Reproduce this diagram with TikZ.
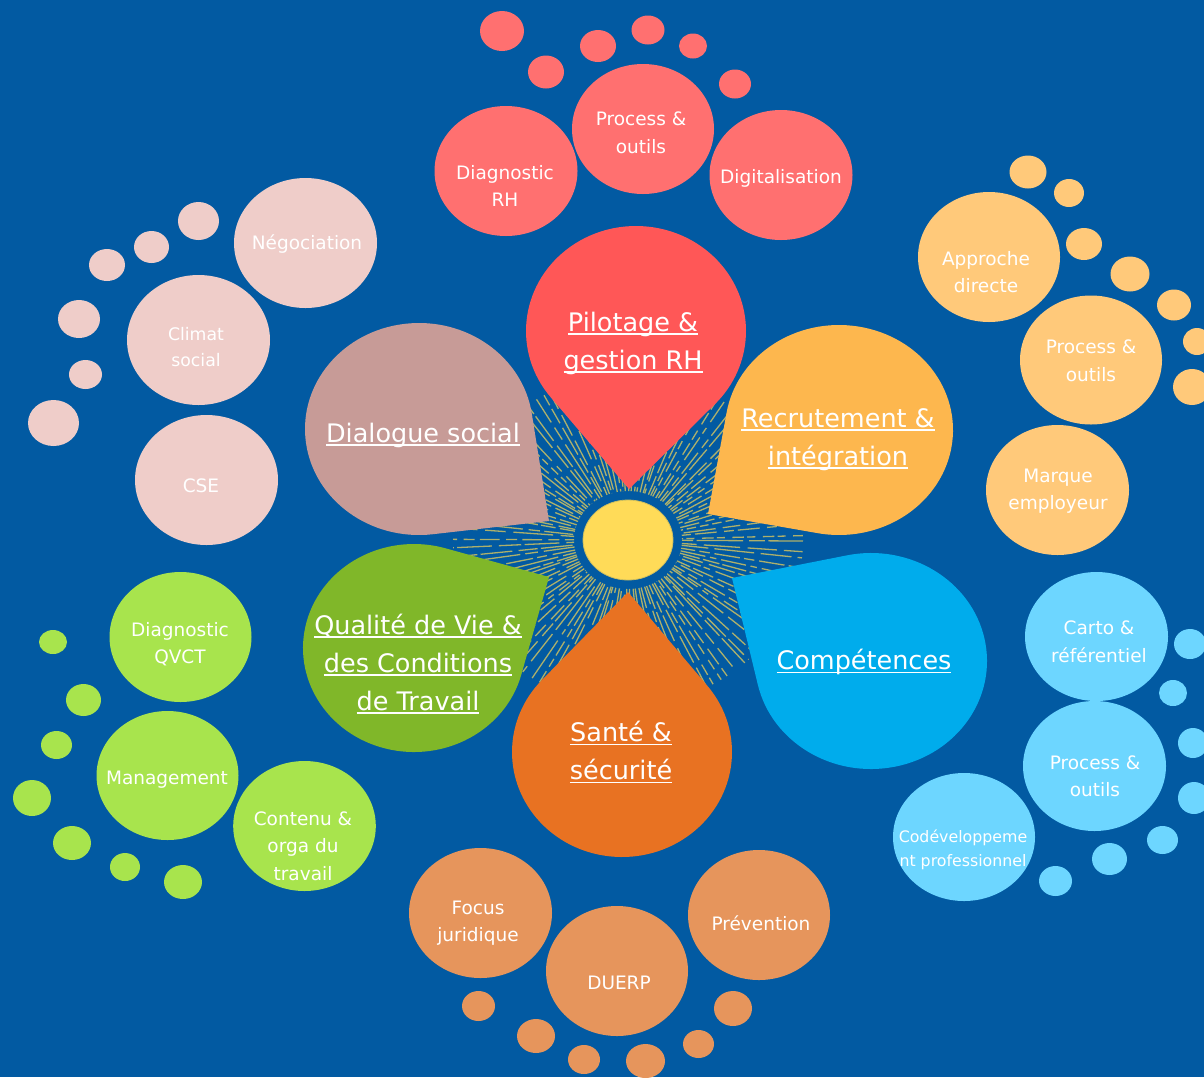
\documentclass[tikz,border=0pt]{standalone}
\usepackage{fontspec}
\setmainfont{DejaVu Sans}
\usetikzlibrary{calc}

% underline with a fixed offset below the baseline
\newsavebox\ulbox
\newcommand\ulined[1]{\sbox\ulbox{#1}\rlap{\rule[-3.5pt]{\wd\ulbox}{1.5pt}}\usebox\ulbox}

% palette
\definecolor{bgblue}{RGB}{2,90,162}
\definecolor{rayc}{RGB}{172,176,108}
\definecolor{sunc}{RGB}{255,219,88}
\definecolor{sunedge}{RGB}{205,190,95}
\definecolor{pilot}{RGB}{255,87,87}
\definecolor{dial}{RGB}{199,155,151}
\definecolor{recru}{RGB}{253,183,78}
\definecolor{compe}{RGB}{0,172,236}
\definecolor{sante}{RGB}{232,114,34}
\definecolor{qvct}{RGB}{128,183,41}
\definecolor{pilotL}{RGB}{255,112,112}
\definecolor{dialL}{RGB}{239,205,201}
\definecolor{recruL}{RGB}{255,201,122}
\definecolor{compeL}{RGB}{109,214,255}
\definecolor{santeL}{RGB}{230,149,92}
\definecolor{qvctL}{RGB}{168,228,77}

% teardrop petal: ellipse centre (#1,#2), radii #3,#4, tip (#5,#6), colour #7
\newcommand\petalshape[7]{%
  \pgfmathsetmacro\pdx{(#5-#1)/#3}%
  \pgfmathsetmacro\pdy{(#6-#2)/#4}%
  \pgfmathsetmacro\pd{veclen(\pdx,\pdy)}%
  \pgfmathsetmacro\pphi{atan2(\pdy,\pdx)}%
  \pgfmathsetmacro\palpha{acos(1/\pd)}%
  \pgfmathsetmacro\pa{\pphi+\palpha}%
  \pgfmathsetmacro\pb{\pphi-\palpha+360}%
  \begin{scope}[shift={(#1,#2)}, xscale=#3, yscale=#4]
    \fill[#7] (\pdx,\pdy) -- (\pa:1) arc[start angle=\pa, end angle=\pb, radius=1] -- cycle;
  \end{scope}}

\tikzset{
  ray/.style={rayc, line width=1.3pt},
  bubtext/.style={text=white, align=center, inner sep=0pt,
    font=\fontsize{18.5}{27.5}\selectfont},
  smalltext/.style={bubtext, font=\fontsize{17.3}{25.5}\selectfont},
  tinytext/.style={bubtext, font=\fontsize{15.8}{24}\selectfont},
  petaltext/.style={text=white, align=center, inner sep=0pt,
    font=\fontsize{25.5}{38}\selectfont},
}

\begin{document}
\begin{tikzpicture}[x=1pt, y=-1pt]
\useasboundingbox (0,0) rectangle (1204,1077);
\clip (0,0) rectangle (1204,1077);
\fill[bgblue] (0,0) rectangle (1204,1077);

% sunburst rays
\coordinate (sun) at (628,540);
\pgfmathsetseed{42}
\foreach \k in {0,...,119}{
  \pgfmathsetmacro\ang{\k*3+rnd*1.5}
  \pgfmathsetmacro\da{6+rnd*30}
  \pgfmathsetmacro\ga{3+rnd*5}
  \pgfmathsetmacro\db{8+rnd*40}
  \pgfmathsetmacro\gb{3+rnd*5}
  \pgfmathsetmacro\ph{rnd*30}
  \draw[ray, dash pattern=on \da pt off \ga pt on \db pt off \gb pt, dash phase=\ph pt]
    ($(sun)+(\ang:54 and 49)$) -- ($(sun)+(\ang:175 and 165)$);
}

% petals
\petalshape{419}{429}{114}{106}{549}{521}{dial}
\petalshape{636}{331}{110}{105}{629}{489}{pilot}
\petalshape{839}{430}{114}{105}{708}{514}{recru}
\petalshape{871}{661}{116}{108}{732}{578}{compe}
\petalshape{622}{752}{110}{105}{628}{592}{sante}
\petalshape{414}{648}{111}{104}{549}{577}{qvct}

% centre
\fill[sunc, draw=sunedge, line width=0.8pt] (sun) ellipse [x radius=45, y radius=40];

% satellite bubbles and dots
\foreach \x/\y/\a/\b in {506/171/71.5/65, 643/129/71/65, 781/175/71.5/65,
  502/31/22/20, 546/72/18/16.5, 598/46/18/16, 648/30/16.5/14.5, 693/46/14/12.5, 735/84/16/14.5}
  \fill[pilotL] (\x,\y) ellipse [x radius=\a, y radius=\b];
\foreach \x/\y/\a/\b in {989/257/71/65, 1091/360/71/64.5, 1057.5/490/71.5/65,
  1028/172/18.5/16.5, 1069/193/15/14, 1084/244/18/16, 1130/274/19.5/17.5, 1174/305/17/15.5,
  1197/341.5/14/13.5, 1192/387/19/18}
  \fill[recruL] (\x,\y) ellipse [x radius=\a, y radius=\b];
\foreach \x/\y/\a/\b in {1096.5/636.5/71.5/64.5, 1094.5/766/71.5/65, 964/837/71/64,
  1190/644/16/15, 1173/693/14/13, 1193/743/15/15, 1194/798/16/16, 1162.5/840/15.5/14,
  1109.5/859/17.5/16, 1055.5/881/16.5/15}
  \fill[compeL] (\x,\y) ellipse [x radius=\a, y radius=\b];
\foreach \x/\y/\a/\b in {480.5/913/71.5/65, 617/971/71/65, 759/915/71/65,
  478.5/1006/16.5/15, 536/1036/19/17, 584/1059.5/16/14.5, 645.5/1061/19.5/17,
  698.5/1044/15.5/14, 733/1008.5/19/17.5}
  \fill[santeL] (\x,\y) ellipse [x radius=\a, y radius=\b];
\foreach \x/\y/\a/\b in {180.5/637/71/65, 167.5/775.5/71/64.5, 304.5/826/71.3/65,
  53/642/14/12, 83.5/700/17.5/16, 56.5/745/15.5/14, 32/798/19/18, 72/843/19/17,
  125/867/15/14, 183/882/19/17}
  \fill[qvctL] (\x,\y) ellipse [x radius=\a, y radius=\b];
\foreach \x/\y/\a/\b in {305.5/243/71.5/65, 198.5/340/71.5/65, 206.5/480/71.5/65,
  198.5/221/20.5/19, 151.5/247/17.5/16, 107/265/18/16, 79/319/21/19,
  85.5/374.5/16.5/14.5, 53.5/423/25.5/23}
  \fill[dialL] (\x,\y) ellipse [x radius=\a, y radius=\b];

% petal titles
\node[petaltext] (t-pilot) at (633,343) {\ulined{Pilotage \&}\\\ulined{gestion RH}};
\node[petaltext] (t-dial) at (423,435) {\ulined{Dialogue social}};
\node[petaltext] (t-recru) at (838,439.5) {\ulined{Recrutement \&}\\\ulined{intégration}};
\node[petaltext] (t-compe) at (864,662) {\ulined{Compétences}};
\node[petaltext] (t-sante) at (621,752.5) {\ulined{Santé \&}\\\ulined{sécurité}};
\node[petaltext] (t-qvct) at (418,664) {\ulined{Qualité de Vie \&}\\\ulined{des Conditions}\\\ulined{de Travail}};

% bubble labels
\node[bubtext] (b-diagrh) at (505,186) {Diagnostic\\RH};
\node[bubtext] (b-procrh) at (641,133) {Process \&\\outils};
\node[bubtext] (b-digit) at (781,178) {Digitalisation};
\node[bubtext] (b-appro) at (986,272) {Approche\\directe};
\node[bubtext] (b-procrec) at (1091,361) {Process \&\\outils};
\node[bubtext] (b-marque) at (1058,491) {Marque\\employeur};
\node[bubtext] (b-carto) at (1099,642) {Carto \&\\référentiel};
\node[bubtext] (b-proccomp) at (1095,776) {Process \&\\outils};
\node[tinytext] (b-codev) at (963,850) {Codéveloppeme\\nt professionnel};
\node[bubtext] (b-focus) at (478,923) {Focus\\juridique};
\node[bubtext] (b-duerp) at (619,983) {DUERP};
\node[bubtext] (b-prev) at (761,923) {Prévention};
\node[bubtext] (b-diagq) at (180,644) {Diagnostic\\QVCT};
\node[bubtext] (b-manag) at (167,780) {Management};
\node[bubtext] (b-contenu) at (303,846) {Contenu \&\\orga du\\travail};
\node[bubtext] (b-nego) at (307,244) {Négociation};
\node[smalltext] (b-climat) at (196,347) {Climat\\social};
\node[bubtext] (b-cse) at (201,486) {CSE};
\end{tikzpicture}
\end{document}
